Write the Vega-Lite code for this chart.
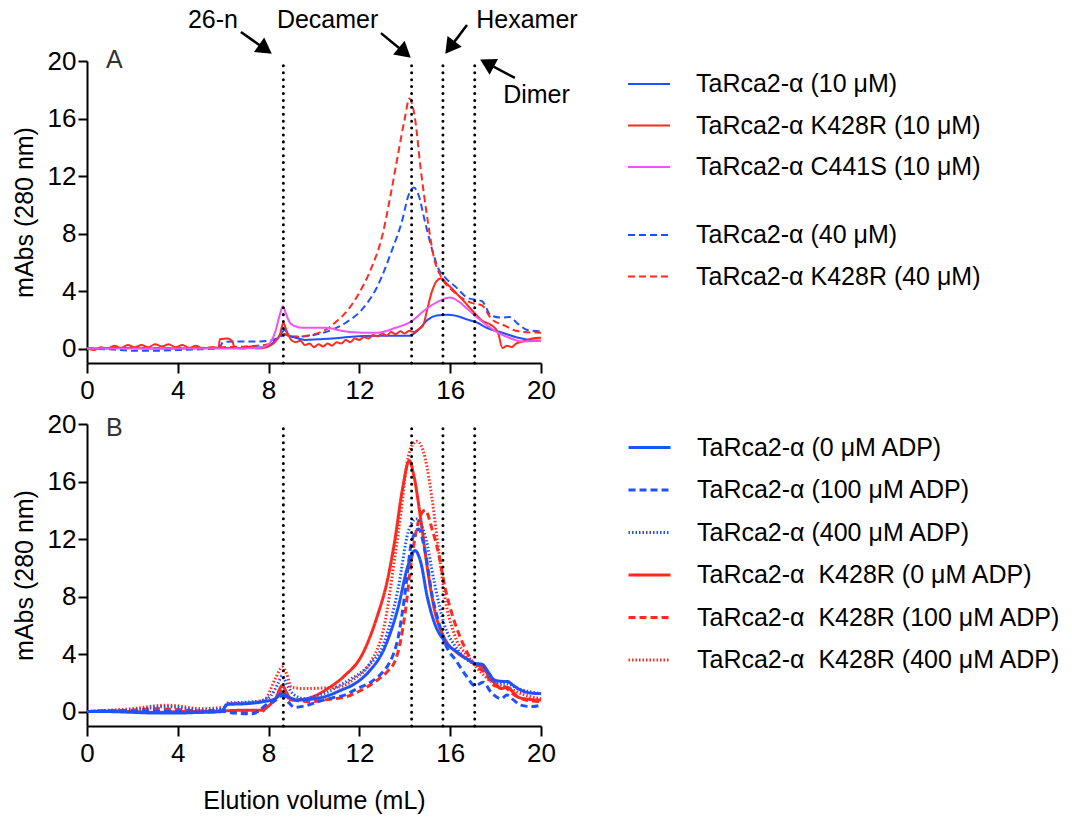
{
  "$schema": "https://vega.github.io/schema/vega-lite/v6.json",
  "padding": {"left": 12, "top": 8, "right": 2, "bottom": 5},
  "config": {
    "font": "Liberation Sans",
    "view": {"stroke": null},
    "axis": {"grid": false, "domainColor": "black", "domainWidth": 2, "tickColor": "black", "tickWidth": 2, "tickSize": 9, "labelFont": "Liberation Sans", "labelFontSize": 26, "labelColor": "black", "titleFont": "Liberation Sans", "titleFontSize": 25, "titleFontWeight": "normal", "titleColor": "black", "labelFlush": false, "labelOverlap": false},
    "legend": {"labelFont": "Liberation Sans", "labelFontSize": 25, "labelColor": "black", "labelLimit": 600, "symbolType": "stroke", "symbolSize": 1764, "symbolStrokeWidth": 2, "rowPadding": 6.5, "padding": 0, "labelOffset": 25, "title": null}
  },
  "datasets": {
    "a1": [
      {"s": "TaRca2-α (10 μM)", "x": 0, "y": 0}, {"s": "TaRca2-α (10 μM)", "x": 1, "y": 0.05}, {"s": "TaRca2-α (10 μM)", "x": 2, "y": 0.05}, {"s": "TaRca2-α (10 μM)", "x": 3, "y": 0}, {"s": "TaRca2-α (10 μM)", "x": 4, "y": 0}, {"s": "TaRca2-α (10 μM)", "x": 5, "y": 0.05}, {"s": "TaRca2-α (10 μM)", "x": 6, "y": 0.05}, {"s": "TaRca2-α (10 μM)", "x": 7, "y": 0.05}, {"s": "TaRca2-α (10 μM)", "x": 7.8, "y": 0.1}, {"s": "TaRca2-α (10 μM)", "x": 8.2, "y": 0.4}, {"s": "TaRca2-α (10 μM)", "x": 8.5, "y": 0.9}, {"s": "TaRca2-α (10 μM)", "x": 8.7, "y": 1.3}, {"s": "TaRca2-α (10 μM)", "x": 8.9, "y": 0.9}, {"s": "TaRca2-α (10 μM)", "x": 9.2, "y": 0.75}, {"s": "TaRca2-α (10 μM)", "x": 9.6, "y": 0.6}, {"s": "TaRca2-α (10 μM)", "x": 10.2, "y": 0.65}, {"s": "TaRca2-α (10 μM)", "x": 10.8, "y": 0.7}, {"s": "TaRca2-α (10 μM)", "x": 11.5, "y": 0.8}, {"s": "TaRca2-α (10 μM)", "x": 12.2, "y": 0.88}, {"s": "TaRca2-α (10 μM)", "x": 13, "y": 0.9}, {"s": "TaRca2-α (10 μM)", "x": 13.6, "y": 0.9}, {"s": "TaRca2-α (10 μM)", "x": 14.2, "y": 0.9}, {"s": "TaRca2-α (10 μM)", "x": 14.6, "y": 1.3}, {"s": "TaRca2-α (10 μM)", "x": 15.0, "y": 2.0}, {"s": "TaRca2-α (10 μM)", "x": 15.4, "y": 2.3}, {"s": "TaRca2-α (10 μM)", "x": 15.9, "y": 2.35}, {"s": "TaRca2-α (10 μM)", "x": 16.2, "y": 2.3}, {"s": "TaRca2-α (10 μM)", "x": 16.8, "y": 2.0}, {"s": "TaRca2-α (10 μM)", "x": 17.2, "y": 1.8}, {"s": "TaRca2-α (10 μM)", "x": 17.6, "y": 1.45}, {"s": "TaRca2-α (10 μM)", "x": 18.3, "y": 1.1}, {"s": "TaRca2-α (10 μM)", "x": 19, "y": 0.75}, {"s": "TaRca2-α (10 μM)", "x": 19.5, "y": 0.6}, {"s": "TaRca2-α (10 μM)", "x": 20, "y": 0.55},
      {"s": "TaRca2-α K428R (10 μM)", "x": 0, "y": 0}, {"s": "TaRca2-α K428R (10 μM)", "x": 0.3, "y": -0.1}, {"s": "TaRca2-α K428R (10 μM)", "x": 0.6, "y": 0.1}, {"s": "TaRca2-α K428R (10 μM)", "x": 0.9, "y": 0.0}, {"s": "TaRca2-α K428R (10 μM)", "x": 1.2, "y": 0.2}, {"s": "TaRca2-α K428R (10 μM)", "x": 1.5, "y": 0.05}, {"s": "TaRca2-α K428R (10 μM)", "x": 1.8, "y": 0.25}, {"s": "TaRca2-α K428R (10 μM)", "x": 2.1, "y": 0.1}, {"s": "TaRca2-α K428R (10 μM)", "x": 2.4, "y": 0.25}, {"s": "TaRca2-α K428R (10 μM)", "x": 2.7, "y": 0.1}, {"s": "TaRca2-α K428R (10 μM)", "x": 3.0, "y": 0.3}, {"s": "TaRca2-α K428R (10 μM)", "x": 3.3, "y": 0.15}, {"s": "TaRca2-α K428R (10 μM)", "x": 3.6, "y": 0.3}, {"s": "TaRca2-α K428R (10 μM)", "x": 3.9, "y": 0.1}, {"s": "TaRca2-α K428R (10 μM)", "x": 4.2, "y": 0.25}, {"s": "TaRca2-α K428R (10 μM)", "x": 4.5, "y": 0.05}, {"s": "TaRca2-α K428R (10 μM)", "x": 4.8, "y": 0.2}, {"s": "TaRca2-α K428R (10 μM)", "x": 5.1, "y": 0.0}, {"s": "TaRca2-α K428R (10 μM)", "x": 5.5, "y": 0.1}, {"s": "TaRca2-α K428R (10 μM)", "x": 5.8, "y": 0.05}, {"s": "TaRca2-α K428R (10 μM)", "x": 5.85, "y": 0.65}, {"s": "TaRca2-α K428R (10 μM)", "x": 6.2, "y": 0.7}, {"s": "TaRca2-α K428R (10 μM)", "x": 6.4, "y": 0.5}, {"s": "TaRca2-α K428R (10 μM)", "x": 6.5, "y": 0.1}, {"s": "TaRca2-α K428R (10 μM)", "x": 6.9, "y": 0.0}, {"s": "TaRca2-α K428R (10 μM)", "x": 7.2, "y": 0.15}, {"s": "TaRca2-α K428R (10 μM)", "x": 7.5, "y": 0}, {"s": "TaRca2-α K428R (10 μM)", "x": 7.9, "y": 0.1}, {"s": "TaRca2-α K428R (10 μM)", "x": 8.3, "y": 0.5}, {"s": "TaRca2-α K428R (10 μM)", "x": 8.5, "y": 1.0}, {"s": "TaRca2-α K428R (10 μM)", "x": 8.65, "y": 1.8}, {"s": "TaRca2-α K428R (10 μM)", "x": 8.8, "y": 1.2}, {"s": "TaRca2-α K428R (10 μM)", "x": 9.0, "y": 0.6}, {"s": "TaRca2-α K428R (10 μM)", "x": 9.2, "y": 0.45}, {"s": "TaRca2-α K428R (10 μM)", "x": 9.4, "y": 0.55}, {"s": "TaRca2-α K428R (10 μM)", "x": 9.6, "y": 0.25}, {"s": "TaRca2-α K428R (10 μM)", "x": 9.8, "y": 0.35}, {"s": "TaRca2-α K428R (10 μM)", "x": 10.0, "y": 0.1}, {"s": "TaRca2-α K428R (10 μM)", "x": 10.2, "y": 0.3}, {"s": "TaRca2-α K428R (10 μM)", "x": 10.4, "y": 0.15}, {"s": "TaRca2-α K428R (10 μM)", "x": 10.6, "y": 0.35}, {"s": "TaRca2-α K428R (10 μM)", "x": 10.8, "y": 0.2}, {"s": "TaRca2-α K428R (10 μM)", "x": 11.0, "y": 0.45}, {"s": "TaRca2-α K428R (10 μM)", "x": 11.2, "y": 0.35}, {"s": "TaRca2-α K428R (10 μM)", "x": 11.4, "y": 0.6}, {"s": "TaRca2-α K428R (10 μM)", "x": 11.6, "y": 0.45}, {"s": "TaRca2-α K428R (10 μM)", "x": 11.8, "y": 0.7}, {"s": "TaRca2-α K428R (10 μM)", "x": 12.0, "y": 0.6}, {"s": "TaRca2-α K428R (10 μM)", "x": 12.2, "y": 0.8}, {"s": "TaRca2-α K428R (10 μM)", "x": 12.4, "y": 0.7}, {"s": "TaRca2-α K428R (10 μM)", "x": 12.6, "y": 0.95}, {"s": "TaRca2-α K428R (10 μM)", "x": 12.8, "y": 0.85}, {"s": "TaRca2-α K428R (10 μM)", "x": 13.0, "y": 1.05}, {"s": "TaRca2-α K428R (10 μM)", "x": 13.2, "y": 0.9}, {"s": "TaRca2-α K428R (10 μM)", "x": 13.4, "y": 1.15}, {"s": "TaRca2-α K428R (10 μM)", "x": 13.6, "y": 1.0}, {"s": "TaRca2-α K428R (10 μM)", "x": 13.8, "y": 1.2}, {"s": "TaRca2-α K428R (10 μM)", "x": 14.0, "y": 1.05}, {"s": "TaRca2-α K428R (10 μM)", "x": 14.2, "y": 1.25}, {"s": "TaRca2-α K428R (10 μM)", "x": 14.4, "y": 1.15}, {"s": "TaRca2-α K428R (10 μM)", "x": 14.6, "y": 1.35}, {"s": "TaRca2-α K428R (10 μM)", "x": 14.8, "y": 1.6}, {"s": "TaRca2-α K428R (10 μM)", "x": 15.0, "y": 2.8}, {"s": "TaRca2-α K428R (10 μM)", "x": 15.2, "y": 4.0}, {"s": "TaRca2-α K428R (10 μM)", "x": 15.4, "y": 4.7}, {"s": "TaRca2-α K428R (10 μM)", "x": 15.6, "y": 4.9}, {"s": "TaRca2-α K428R (10 μM)", "x": 15.8, "y": 4.6}, {"s": "TaRca2-α K428R (10 μM)", "x": 16.0, "y": 4.3}, {"s": "TaRca2-α K428R (10 μM)", "x": 16.3, "y": 3.8}, {"s": "TaRca2-α K428R (10 μM)", "x": 16.6, "y": 3.3}, {"s": "TaRca2-α K428R (10 μM)", "x": 17.0, "y": 2.6}, {"s": "TaRca2-α K428R (10 μM)", "x": 17.4, "y": 1.95}, {"s": "TaRca2-α K428R (10 μM)", "x": 17.8, "y": 1.65}, {"s": "TaRca2-α K428R (10 μM)", "x": 18.1, "y": 1.15}, {"s": "TaRca2-α K428R (10 μM)", "x": 18.3, "y": 0.05}, {"s": "TaRca2-α K428R (10 μM)", "x": 18.5, "y": 0.2}, {"s": "TaRca2-α K428R (10 μM)", "x": 18.7, "y": 0.1}, {"s": "TaRca2-α K428R (10 μM)", "x": 18.9, "y": 0.35}, {"s": "TaRca2-α K428R (10 μM)", "x": 19.2, "y": 0.5}, {"s": "TaRca2-α K428R (10 μM)", "x": 19.6, "y": 0.7}, {"s": "TaRca2-α K428R (10 μM)", "x": 20, "y": 0.75},
      {"s": "TaRca2-α C441S (10 μM)", "x": 0, "y": 0}, {"s": "TaRca2-α C441S (10 μM)", "x": 2, "y": 0}, {"s": "TaRca2-α C441S (10 μM)", "x": 4, "y": 0}, {"s": "TaRca2-α C441S (10 μM)", "x": 6, "y": 0}, {"s": "TaRca2-α C441S (10 μM)", "x": 7.6, "y": 0.05}, {"s": "TaRca2-α C441S (10 μM)", "x": 8.0, "y": 0.3}, {"s": "TaRca2-α C441S (10 μM)", "x": 8.3, "y": 1.2}, {"s": "TaRca2-α C441S (10 μM)", "x": 8.5, "y": 2.4}, {"s": "TaRca2-α C441S (10 μM)", "x": 8.62, "y": 2.95}, {"s": "TaRca2-α C441S (10 μM)", "x": 8.75, "y": 2.5}, {"s": "TaRca2-α C441S (10 μM)", "x": 8.9, "y": 1.9}, {"s": "TaRca2-α C441S (10 μM)", "x": 9.1, "y": 1.6}, {"s": "TaRca2-α C441S (10 μM)", "x": 9.5, "y": 1.45}, {"s": "TaRca2-α C441S (10 μM)", "x": 10.5, "y": 1.45}, {"s": "TaRca2-α C441S (10 μM)", "x": 11.35, "y": 1.2}, {"s": "TaRca2-α C441S (10 μM)", "x": 12.1, "y": 1.1}, {"s": "TaRca2-α C441S (10 μM)", "x": 12.8, "y": 1.1}, {"s": "TaRca2-α C441S (10 μM)", "x": 13.6, "y": 1.45}, {"s": "TaRca2-α C441S (10 μM)", "x": 14.3, "y": 1.9}, {"s": "TaRca2-α C441S (10 μM)", "x": 14.9, "y": 2.7}, {"s": "TaRca2-α C441S (10 μM)", "x": 15.5, "y": 3.3}, {"s": "TaRca2-α C441S (10 μM)", "x": 16.0, "y": 3.55}, {"s": "TaRca2-α C441S (10 μM)", "x": 16.35, "y": 3.3}, {"s": "TaRca2-α C441S (10 μM)", "x": 16.8, "y": 2.7}, {"s": "TaRca2-α C441S (10 μM)", "x": 17.2, "y": 2.15}, {"s": "TaRca2-α C441S (10 μM)", "x": 18.0, "y": 1.2}, {"s": "TaRca2-α C441S (10 μM)", "x": 18.6, "y": 0.76}, {"s": "TaRca2-α C441S (10 μM)", "x": 19.15, "y": 0.5}, {"s": "TaRca2-α C441S (10 μM)", "x": 20, "y": 0.55}
    ],
    "a2": [
      {"s": "TaRca2-α (40 μM)", "x": 0, "y": 0}, {"s": "TaRca2-α (40 μM)", "x": 1, "y": -0.05}, {"s": "TaRca2-α (40 μM)", "x": 2, "y": -0.15}, {"s": "TaRca2-α (40 μM)", "x": 3, "y": -0.15}, {"s": "TaRca2-α (40 μM)", "x": 4, "y": -0.1}, {"s": "TaRca2-α (40 μM)", "x": 5, "y": -0.05}, {"s": "TaRca2-α (40 μM)", "x": 5.8, "y": 0}, {"s": "TaRca2-α (40 μM)", "x": 6.0, "y": 0.45}, {"s": "TaRca2-α (40 μM)", "x": 6.5, "y": 0.5}, {"s": "TaRca2-α (40 μM)", "x": 7, "y": 0.5}, {"s": "TaRca2-α (40 μM)", "x": 7.5, "y": 0.5}, {"s": "TaRca2-α (40 μM)", "x": 8, "y": 0.55}, {"s": "TaRca2-α (40 μM)", "x": 8.5, "y": 0.8}, {"s": "TaRca2-α (40 μM)", "x": 8.7, "y": 1.0}, {"s": "TaRca2-α (40 μM)", "x": 9, "y": 0.85}, {"s": "TaRca2-α (40 μM)", "x": 9.5, "y": 0.85}, {"s": "TaRca2-α (40 μM)", "x": 10, "y": 0.95}, {"s": "TaRca2-α (40 μM)", "x": 10.6, "y": 1.2}, {"s": "TaRca2-α (40 μM)", "x": 11.4, "y": 1.8}, {"s": "TaRca2-α (40 μM)", "x": 12.1, "y": 2.7}, {"s": "TaRca2-α (40 μM)", "x": 12.8, "y": 4.35}, {"s": "TaRca2-α (40 μM)", "x": 13.4, "y": 6.7}, {"s": "TaRca2-α (40 μM)", "x": 13.9, "y": 9.0}, {"s": "TaRca2-α (40 μM)", "x": 14.15, "y": 10.6}, {"s": "TaRca2-α (40 μM)", "x": 14.4, "y": 11.2}, {"s": "TaRca2-α (40 μM)", "x": 14.6, "y": 10.7}, {"s": "TaRca2-α (40 μM)", "x": 14.9, "y": 8.75}, {"s": "TaRca2-α (40 μM)", "x": 15.2, "y": 6.9}, {"s": "TaRca2-α (40 μM)", "x": 15.5, "y": 5.5}, {"s": "TaRca2-α (40 μM)", "x": 15.8, "y": 4.9}, {"s": "TaRca2-α (40 μM)", "x": 16.2, "y": 4.35}, {"s": "TaRca2-α (40 μM)", "x": 16.8, "y": 3.5}, {"s": "TaRca2-α (40 μM)", "x": 17.4, "y": 3.3}, {"s": "TaRca2-α (40 μM)", "x": 17.8, "y": 2.3}, {"s": "TaRca2-α (40 μM)", "x": 18.3, "y": 2.15}, {"s": "TaRca2-α (40 μM)", "x": 18.6, "y": 2.2}, {"s": "TaRca2-α (40 μM)", "x": 19.0, "y": 1.7}, {"s": "TaRca2-α (40 μM)", "x": 19.4, "y": 1.3}, {"s": "TaRca2-α (40 μM)", "x": 20, "y": 1.2},
      {"s": "TaRca2-α K428R (40 μM)", "x": 0, "y": 0}, {"s": "TaRca2-α K428R (40 μM)", "x": 1, "y": 0.05}, {"s": "TaRca2-α K428R (40 μM)", "x": 3, "y": 0.05}, {"s": "TaRca2-α K428R (40 μM)", "x": 5, "y": 0.05}, {"s": "TaRca2-α K428R (40 μM)", "x": 6, "y": 0.1}, {"s": "TaRca2-α K428R (40 μM)", "x": 7, "y": 0.15}, {"s": "TaRca2-α K428R (40 μM)", "x": 8, "y": 0.3}, {"s": "TaRca2-α K428R (40 μM)", "x": 8.5, "y": 0.8}, {"s": "TaRca2-α K428R (40 μM)", "x": 8.7, "y": 1.0}, {"s": "TaRca2-α K428R (40 μM)", "x": 9, "y": 0.8}, {"s": "TaRca2-α K428R (40 μM)", "x": 9.5, "y": 0.85}, {"s": "TaRca2-α K428R (40 μM)", "x": 10, "y": 1.0}, {"s": "TaRca2-α K428R (40 μM)", "x": 10.5, "y": 1.3}, {"s": "TaRca2-α K428R (40 μM)", "x": 11, "y": 1.9}, {"s": "TaRca2-α K428R (40 μM)", "x": 11.5, "y": 2.7}, {"s": "TaRca2-α K428R (40 μM)", "x": 12, "y": 3.9}, {"s": "TaRca2-α K428R (40 μM)", "x": 12.5, "y": 5.5}, {"s": "TaRca2-α K428R (40 μM)", "x": 13, "y": 7.8}, {"s": "TaRca2-α K428R (40 μM)", "x": 13.4, "y": 10.9}, {"s": "TaRca2-α K428R (40 μM)", "x": 13.7, "y": 13.5}, {"s": "TaRca2-α K428R (40 μM)", "x": 14.0, "y": 16.0}, {"s": "TaRca2-α K428R (40 μM)", "x": 14.2, "y": 17.4}, {"s": "TaRca2-α K428R (40 μM)", "x": 14.45, "y": 16.0}, {"s": "TaRca2-α K428R (40 μM)", "x": 14.7, "y": 12.5}, {"s": "TaRca2-α K428R (40 μM)", "x": 15.0, "y": 9.0}, {"s": "TaRca2-α K428R (40 μM)", "x": 15.3, "y": 6.2}, {"s": "TaRca2-α K428R (40 μM)", "x": 15.6, "y": 5.0}, {"s": "TaRca2-α K428R (40 μM)", "x": 16.2, "y": 3.9}, {"s": "TaRca2-α K428R (40 μM)", "x": 16.9, "y": 3.2}, {"s": "TaRca2-α K428R (40 μM)", "x": 17.4, "y": 3.0}, {"s": "TaRca2-α K428R (40 μM)", "x": 17.8, "y": 2.1}, {"s": "TaRca2-α K428R (40 μM)", "x": 18.4, "y": 1.6}, {"s": "TaRca2-α K428R (40 μM)", "x": 19.0, "y": 1.2}, {"s": "TaRca2-α K428R (40 μM)", "x": 20, "y": 1.1}
    ],
    "b": [
      {"s": "TaRca2-α  K428R (0 μM ADP)", "x": 0, "y": 0}, {"s": "TaRca2-α  K428R (0 μM ADP)", "x": 1, "y": 0.05}, {"s": "TaRca2-α  K428R (0 μM ADP)", "x": 2, "y": 0}, {"s": "TaRca2-α  K428R (0 μM ADP)", "x": 3, "y": -0.05}, {"s": "TaRca2-α  K428R (0 μM ADP)", "x": 4, "y": 0}, {"s": "TaRca2-α  K428R (0 μM ADP)", "x": 5, "y": 0}, {"s": "TaRca2-α  K428R (0 μM ADP)", "x": 6, "y": 0.05}, {"s": "TaRca2-α  K428R (0 μM ADP)", "x": 7, "y": 0.1}, {"s": "TaRca2-α  K428R (0 μM ADP)", "x": 7.7, "y": 0.1}, {"s": "TaRca2-α  K428R (0 μM ADP)", "x": 8.0, "y": 0.4}, {"s": "TaRca2-α  K428R (0 μM ADP)", "x": 8.3, "y": 0.9}, {"s": "TaRca2-α  K428R (0 μM ADP)", "x": 8.6, "y": 1.8}, {"s": "TaRca2-α  K428R (0 μM ADP)", "x": 8.8, "y": 1.3}, {"s": "TaRca2-α  K428R (0 μM ADP)", "x": 9.0, "y": 0.8}, {"s": "TaRca2-α  K428R (0 μM ADP)", "x": 9.5, "y": 0.85}, {"s": "TaRca2-α  K428R (0 μM ADP)", "x": 9.9, "y": 1.0}, {"s": "TaRca2-α  K428R (0 μM ADP)", "x": 10.6, "y": 1.6}, {"s": "TaRca2-α  K428R (0 μM ADP)", "x": 11.35, "y": 2.5}, {"s": "TaRca2-α  K428R (0 μM ADP)", "x": 12.1, "y": 3.9}, {"s": "TaRca2-α  K428R (0 μM ADP)", "x": 12.8, "y": 6.7}, {"s": "TaRca2-α  K428R (0 μM ADP)", "x": 13.2, "y": 8.9}, {"s": "TaRca2-α  K428R (0 μM ADP)", "x": 13.55, "y": 11.8}, {"s": "TaRca2-α  K428R (0 μM ADP)", "x": 13.9, "y": 15.5}, {"s": "TaRca2-α  K428R (0 μM ADP)", "x": 14.2, "y": 17.45}, {"s": "TaRca2-α  K428R (0 μM ADP)", "x": 14.4, "y": 16.4}, {"s": "TaRca2-α  K428R (0 μM ADP)", "x": 14.7, "y": 13.4}, {"s": "TaRca2-α  K428R (0 μM ADP)", "x": 15.0, "y": 9.9}, {"s": "TaRca2-α  K428R (0 μM ADP)", "x": 15.3, "y": 7.15}, {"s": "TaRca2-α  K428R (0 μM ADP)", "x": 15.75, "y": 5.1}, {"s": "TaRca2-α  K428R (0 μM ADP)", "x": 16.3, "y": 4.1}, {"s": "TaRca2-α  K428R (0 μM ADP)", "x": 16.8, "y": 3.6}, {"s": "TaRca2-α  K428R (0 μM ADP)", "x": 17.1, "y": 3.3}, {"s": "TaRca2-α  K428R (0 μM ADP)", "x": 17.4, "y": 3.1}, {"s": "TaRca2-α  K428R (0 μM ADP)", "x": 17.8, "y": 2.3}, {"s": "TaRca2-α  K428R (0 μM ADP)", "x": 18.25, "y": 1.6}, {"s": "TaRca2-α  K428R (0 μM ADP)", "x": 18.5, "y": 1.7}, {"s": "TaRca2-α  K428R (0 μM ADP)", "x": 18.8, "y": 1.3}, {"s": "TaRca2-α  K428R (0 μM ADP)", "x": 19.0, "y": 1.0}, {"s": "TaRca2-α  K428R (0 μM ADP)", "x": 19.5, "y": 0.85}, {"s": "TaRca2-α  K428R (0 μM ADP)", "x": 20, "y": 0.8},
      {"s": "TaRca2-α  K428R (100 μM ADP)", "x": 0, "y": 0}, {"s": "TaRca2-α  K428R (100 μM ADP)", "x": 1, "y": 0.05}, {"s": "TaRca2-α  K428R (100 μM ADP)", "x": 2, "y": 0.1}, {"s": "TaRca2-α  K428R (100 μM ADP)", "x": 3, "y": 0.2}, {"s": "TaRca2-α  K428R (100 μM ADP)", "x": 4, "y": 0.15}, {"s": "TaRca2-α  K428R (100 μM ADP)", "x": 5, "y": 0.05}, {"s": "TaRca2-α  K428R (100 μM ADP)", "x": 6, "y": 0.1}, {"s": "TaRca2-α  K428R (100 μM ADP)", "x": 7, "y": 0}, {"s": "TaRca2-α  K428R (100 μM ADP)", "x": 7.7, "y": 0}, {"s": "TaRca2-α  K428R (100 μM ADP)", "x": 8.0, "y": 0.5}, {"s": "TaRca2-α  K428R (100 μM ADP)", "x": 8.3, "y": 0.8}, {"s": "TaRca2-α  K428R (100 μM ADP)", "x": 8.6, "y": 1.5}, {"s": "TaRca2-α  K428R (100 μM ADP)", "x": 8.9, "y": 0.9}, {"s": "TaRca2-α  K428R (100 μM ADP)", "x": 9.3, "y": 0.75}, {"s": "TaRca2-α  K428R (100 μM ADP)", "x": 9.9, "y": 0.7}, {"s": "TaRca2-α  K428R (100 μM ADP)", "x": 10.6, "y": 0.85}, {"s": "TaRca2-α  K428R (100 μM ADP)", "x": 11.35, "y": 1.0}, {"s": "TaRca2-α  K428R (100 μM ADP)", "x": 12.1, "y": 1.5}, {"s": "TaRca2-α  K428R (100 μM ADP)", "x": 12.8, "y": 2.2}, {"s": "TaRca2-α  K428R (100 μM ADP)", "x": 13.3, "y": 2.9}, {"s": "TaRca2-α  K428R (100 μM ADP)", "x": 13.55, "y": 3.45}, {"s": "TaRca2-α  K428R (100 μM ADP)", "x": 13.8, "y": 4.8}, {"s": "TaRca2-α  K428R (100 μM ADP)", "x": 14.0, "y": 6.7}, {"s": "TaRca2-α  K428R (100 μM ADP)", "x": 14.3, "y": 10.6}, {"s": "TaRca2-α  K428R (100 μM ADP)", "x": 14.6, "y": 13.2}, {"s": "TaRca2-α  K428R (100 μM ADP)", "x": 14.9, "y": 14.0}, {"s": "TaRca2-α  K428R (100 μM ADP)", "x": 15.2, "y": 12.7}, {"s": "TaRca2-α  K428R (100 μM ADP)", "x": 15.5, "y": 10.9}, {"s": "TaRca2-α  K428R (100 μM ADP)", "x": 15.75, "y": 8.8}, {"s": "TaRca2-α  K428R (100 μM ADP)", "x": 16.2, "y": 6.2}, {"s": "TaRca2-α  K428R (100 μM ADP)", "x": 16.6, "y": 4.6}, {"s": "TaRca2-α  K428R (100 μM ADP)", "x": 17.1, "y": 3.2}, {"s": "TaRca2-α  K428R (100 μM ADP)", "x": 17.5, "y": 2.75}, {"s": "TaRca2-α  K428R (100 μM ADP)", "x": 17.95, "y": 1.8}, {"s": "TaRca2-α  K428R (100 μM ADP)", "x": 18.4, "y": 1.7}, {"s": "TaRca2-α  K428R (100 μM ADP)", "x": 18.7, "y": 1.3}, {"s": "TaRca2-α  K428R (100 μM ADP)", "x": 19, "y": 1.0}, {"s": "TaRca2-α  K428R (100 μM ADP)", "x": 19.5, "y": 0.75}, {"s": "TaRca2-α  K428R (100 μM ADP)", "x": 20, "y": 0.7},
      {"s": "TaRca2-α  K428R (400 μM ADP)", "x": 0, "y": 0}, {"s": "TaRca2-α  K428R (400 μM ADP)", "x": 1, "y": 0.1}, {"s": "TaRca2-α  K428R (400 μM ADP)", "x": 2, "y": 0.2}, {"s": "TaRca2-α  K428R (400 μM ADP)", "x": 3, "y": 0.4}, {"s": "TaRca2-α  K428R (400 μM ADP)", "x": 3.5, "y": 0.45}, {"s": "TaRca2-α  K428R (400 μM ADP)", "x": 4, "y": 0.4}, {"s": "TaRca2-α  K428R (400 μM ADP)", "x": 5, "y": 0.2}, {"s": "TaRca2-α  K428R (400 μM ADP)", "x": 6, "y": 0.3}, {"s": "TaRca2-α  K428R (400 μM ADP)", "x": 6.2, "y": 0.55}, {"s": "TaRca2-α  K428R (400 μM ADP)", "x": 7, "y": 0.6}, {"s": "TaRca2-α  K428R (400 μM ADP)", "x": 7.8, "y": 0.8}, {"s": "TaRca2-α  K428R (400 μM ADP)", "x": 8.3, "y": 2.3}, {"s": "TaRca2-α  K428R (400 μM ADP)", "x": 8.6, "y": 3.1}, {"s": "TaRca2-α  K428R (400 μM ADP)", "x": 8.8, "y": 2.6}, {"s": "TaRca2-α  K428R (400 μM ADP)", "x": 9.0, "y": 1.7}, {"s": "TaRca2-α  K428R (400 μM ADP)", "x": 9.6, "y": 1.6}, {"s": "TaRca2-α  K428R (400 μM ADP)", "x": 10.5, "y": 1.65}, {"s": "TaRca2-α  K428R (400 μM ADP)", "x": 11.05, "y": 1.7}, {"s": "TaRca2-α  K428R (400 μM ADP)", "x": 11.8, "y": 2.3}, {"s": "TaRca2-α  K428R (400 μM ADP)", "x": 12.5, "y": 3.45}, {"s": "TaRca2-α  K428R (400 μM ADP)", "x": 13.1, "y": 6.0}, {"s": "TaRca2-α  K428R (400 μM ADP)", "x": 13.55, "y": 10.6}, {"s": "TaRca2-α  K428R (400 μM ADP)", "x": 13.85, "y": 14.1}, {"s": "TaRca2-α  K428R (400 μM ADP)", "x": 14.1, "y": 17.3}, {"s": "TaRca2-α  K428R (400 μM ADP)", "x": 14.35, "y": 18.6}, {"s": "TaRca2-α  K428R (400 μM ADP)", "x": 14.55, "y": 18.8}, {"s": "TaRca2-α  K428R (400 μM ADP)", "x": 14.9, "y": 17.6}, {"s": "TaRca2-α  K428R (400 μM ADP)", "x": 15.2, "y": 14.8}, {"s": "TaRca2-α  K428R (400 μM ADP)", "x": 15.5, "y": 11.1}, {"s": "TaRca2-α  K428R (400 μM ADP)", "x": 15.75, "y": 8.1}, {"s": "TaRca2-α  K428R (400 μM ADP)", "x": 16.2, "y": 5.3}, {"s": "TaRca2-α  K428R (400 μM ADP)", "x": 16.8, "y": 3.8}, {"s": "TaRca2-α  K428R (400 μM ADP)", "x": 17.2, "y": 3.0}, {"s": "TaRca2-α  K428R (400 μM ADP)", "x": 17.8, "y": 2.1}, {"s": "TaRca2-α  K428R (400 μM ADP)", "x": 18.5, "y": 1.7}, {"s": "TaRca2-α  K428R (400 μM ADP)", "x": 19.2, "y": 1.2}, {"s": "TaRca2-α  K428R (400 μM ADP)", "x": 20, "y": 0.9},
      {"s": "TaRca2-α (0 μM ADP)", "x": 0, "y": 0}, {"s": "TaRca2-α (0 μM ADP)", "x": 1, "y": 0}, {"s": "TaRca2-α (0 μM ADP)", "x": 2, "y": -0.05}, {"s": "TaRca2-α (0 μM ADP)", "x": 3, "y": -0.1}, {"s": "TaRca2-α (0 μM ADP)", "x": 4, "y": -0.1}, {"s": "TaRca2-α (0 μM ADP)", "x": 5, "y": -0.05}, {"s": "TaRca2-α (0 μM ADP)", "x": 5.9, "y": 0}, {"s": "TaRca2-α (0 μM ADP)", "x": 6.2, "y": 0.5}, {"s": "TaRca2-α (0 μM ADP)", "x": 7, "y": 0.55}, {"s": "TaRca2-α (0 μM ADP)", "x": 7.8, "y": 0.7}, {"s": "TaRca2-α (0 μM ADP)", "x": 8.3, "y": 0.9}, {"s": "TaRca2-α (0 μM ADP)", "x": 8.6, "y": 1.25}, {"s": "TaRca2-α (0 μM ADP)", "x": 8.9, "y": 1.0}, {"s": "TaRca2-α (0 μM ADP)", "x": 9.3, "y": 0.8}, {"s": "TaRca2-α (0 μM ADP)", "x": 9.8, "y": 0.85}, {"s": "TaRca2-α (0 μM ADP)", "x": 10.6, "y": 1.1}, {"s": "TaRca2-α (0 μM ADP)", "x": 11.2, "y": 1.5}, {"s": "TaRca2-α (0 μM ADP)", "x": 11.7, "y": 1.85}, {"s": "TaRca2-α (0 μM ADP)", "x": 12.4, "y": 2.75}, {"s": "TaRca2-α (0 μM ADP)", "x": 13.1, "y": 4.4}, {"s": "TaRca2-α (0 μM ADP)", "x": 13.7, "y": 7.2}, {"s": "TaRca2-α (0 μM ADP)", "x": 14.15, "y": 10.2}, {"s": "TaRca2-α (0 μM ADP)", "x": 14.45, "y": 11.2}, {"s": "TaRca2-α (0 μM ADP)", "x": 14.7, "y": 10.4}, {"s": "TaRca2-α (0 μM ADP)", "x": 15.0, "y": 7.9}, {"s": "TaRca2-α (0 μM ADP)", "x": 15.3, "y": 6.2}, {"s": "TaRca2-α (0 μM ADP)", "x": 15.75, "y": 4.9}, {"s": "TaRca2-α (0 μM ADP)", "x": 16.3, "y": 4.15}, {"s": "TaRca2-α (0 μM ADP)", "x": 16.8, "y": 3.6}, {"s": "TaRca2-α (0 μM ADP)", "x": 17.1, "y": 3.35}, {"s": "TaRca2-α (0 μM ADP)", "x": 17.4, "y": 3.3}, {"s": "TaRca2-α (0 μM ADP)", "x": 17.7, "y": 2.7}, {"s": "TaRca2-α (0 μM ADP)", "x": 17.95, "y": 2.2}, {"s": "TaRca2-α (0 μM ADP)", "x": 18.3, "y": 2.1}, {"s": "TaRca2-α (0 μM ADP)", "x": 18.5, "y": 2.1}, {"s": "TaRca2-α (0 μM ADP)", "x": 18.8, "y": 1.8}, {"s": "TaRca2-α (0 μM ADP)", "x": 19.1, "y": 1.5}, {"s": "TaRca2-α (0 μM ADP)", "x": 19.5, "y": 1.3}, {"s": "TaRca2-α (0 μM ADP)", "x": 20, "y": 1.25},
      {"s": "TaRca2-α (100 μM ADP)", "x": 0, "y": 0}, {"s": "TaRca2-α (100 μM ADP)", "x": 1, "y": 0.05}, {"s": "TaRca2-α (100 μM ADP)", "x": 2, "y": 0}, {"s": "TaRca2-α (100 μM ADP)", "x": 4, "y": 0}, {"s": "TaRca2-α (100 μM ADP)", "x": 5, "y": -0.05}, {"s": "TaRca2-α (100 μM ADP)", "x": 6, "y": 0}, {"s": "TaRca2-α (100 μM ADP)", "x": 6.5, "y": -0.1}, {"s": "TaRca2-α (100 μM ADP)", "x": 7.3, "y": -0.15}, {"s": "TaRca2-α (100 μM ADP)", "x": 7.6, "y": 0.1}, {"s": "TaRca2-α (100 μM ADP)", "x": 8.0, "y": 0.6}, {"s": "TaRca2-α (100 μM ADP)", "x": 8.3, "y": 0.8}, {"s": "TaRca2-α (100 μM ADP)", "x": 8.6, "y": 1.1}, {"s": "TaRca2-α (100 μM ADP)", "x": 8.9, "y": 0.6}, {"s": "TaRca2-α (100 μM ADP)", "x": 9.15, "y": 0.3}, {"s": "TaRca2-α (100 μM ADP)", "x": 9.6, "y": 0.4}, {"s": "TaRca2-α (100 μM ADP)", "x": 10.2, "y": 0.7}, {"s": "TaRca2-α (100 μM ADP)", "x": 10.8, "y": 0.95}, {"s": "TaRca2-α (100 μM ADP)", "x": 11.35, "y": 1.15}, {"s": "TaRca2-α (100 μM ADP)", "x": 11.9, "y": 1.6}, {"s": "TaRca2-α (100 μM ADP)", "x": 12.5, "y": 2.05}, {"s": "TaRca2-α (100 μM ADP)", "x": 13.0, "y": 2.7}, {"s": "TaRca2-α (100 μM ADP)", "x": 13.25, "y": 3.2}, {"s": "TaRca2-α (100 μM ADP)", "x": 13.5, "y": 4.0}, {"s": "TaRca2-α (100 μM ADP)", "x": 13.7, "y": 5.1}, {"s": "TaRca2-α (100 μM ADP)", "x": 14.0, "y": 8.1}, {"s": "TaRca2-α (100 μM ADP)", "x": 14.3, "y": 11.8}, {"s": "TaRca2-α (100 μM ADP)", "x": 14.6, "y": 12.7}, {"s": "TaRca2-α (100 μM ADP)", "x": 14.9, "y": 11.1}, {"s": "TaRca2-α (100 μM ADP)", "x": 15.2, "y": 8.1}, {"s": "TaRca2-α (100 μM ADP)", "x": 15.5, "y": 6.2}, {"s": "TaRca2-α (100 μM ADP)", "x": 15.75, "y": 4.85}, {"s": "TaRca2-α (100 μM ADP)", "x": 16.3, "y": 3.45}, {"s": "TaRca2-α (100 μM ADP)", "x": 16.7, "y": 2.5}, {"s": "TaRca2-α (100 μM ADP)", "x": 17.1, "y": 1.8}, {"s": "TaRca2-α (100 μM ADP)", "x": 17.45, "y": 2.05}, {"s": "TaRca2-α (100 μM ADP)", "x": 17.8, "y": 1.35}, {"s": "TaRca2-α (100 μM ADP)", "x": 18.25, "y": 0.9}, {"s": "TaRca2-α (100 μM ADP)", "x": 18.5, "y": 1.15}, {"s": "TaRca2-α (100 μM ADP)", "x": 18.8, "y": 0.8}, {"s": "TaRca2-α (100 μM ADP)", "x": 19.1, "y": 0.45}, {"s": "TaRca2-α (100 μM ADP)", "x": 19.6, "y": 0.35}, {"s": "TaRca2-α (100 μM ADP)", "x": 20, "y": 0.45},
      {"s": "TaRca2-α (400 μM ADP)", "x": 0, "y": 0}, {"s": "TaRca2-α (400 μM ADP)", "x": 1, "y": 0.05}, {"s": "TaRca2-α (400 μM ADP)", "x": 2, "y": 0.1}, {"s": "TaRca2-α (400 μM ADP)", "x": 3, "y": 0.3}, {"s": "TaRca2-α (400 μM ADP)", "x": 3.5, "y": 0.35}, {"s": "TaRca2-α (400 μM ADP)", "x": 4, "y": 0.3}, {"s": "TaRca2-α (400 μM ADP)", "x": 5, "y": 0.1}, {"s": "TaRca2-α (400 μM ADP)", "x": 6, "y": 0.2}, {"s": "TaRca2-α (400 μM ADP)", "x": 6.2, "y": 0.6}, {"s": "TaRca2-α (400 μM ADP)", "x": 7, "y": 0.65}, {"s": "TaRca2-α (400 μM ADP)", "x": 7.8, "y": 0.8}, {"s": "TaRca2-α (400 μM ADP)", "x": 8.1, "y": 1.1}, {"s": "TaRca2-α (400 μM ADP)", "x": 8.4, "y": 1.9}, {"s": "TaRca2-α (400 μM ADP)", "x": 8.6, "y": 2.5}, {"s": "TaRca2-α (400 μM ADP)", "x": 8.8, "y": 1.9}, {"s": "TaRca2-α (400 μM ADP)", "x": 9.1, "y": 1.2}, {"s": "TaRca2-α (400 μM ADP)", "x": 9.6, "y": 0.9}, {"s": "TaRca2-α (400 μM ADP)", "x": 10.1, "y": 1.1}, {"s": "TaRca2-α (400 μM ADP)", "x": 10.6, "y": 1.35}, {"s": "TaRca2-α (400 μM ADP)", "x": 11.1, "y": 1.8}, {"s": "TaRca2-α (400 μM ADP)", "x": 11.65, "y": 2.3}, {"s": "TaRca2-α (400 μM ADP)", "x": 12.4, "y": 3.2}, {"s": "TaRca2-α (400 μM ADP)", "x": 13.1, "y": 4.85}, {"s": "TaRca2-α (400 μM ADP)", "x": 13.7, "y": 8.5}, {"s": "TaRca2-α (400 μM ADP)", "x": 14.15, "y": 12.5}, {"s": "TaRca2-α (400 μM ADP)", "x": 14.5, "y": 13.4}, {"s": "TaRca2-α (400 μM ADP)", "x": 14.9, "y": 12.2}, {"s": "TaRca2-α (400 μM ADP)", "x": 15.3, "y": 9.0}, {"s": "TaRca2-α (400 μM ADP)", "x": 15.75, "y": 6.0}, {"s": "TaRca2-α (400 μM ADP)", "x": 16.2, "y": 4.6}, {"s": "TaRca2-α (400 μM ADP)", "x": 16.9, "y": 3.45}, {"s": "TaRca2-α (400 μM ADP)", "x": 17.4, "y": 3.2}, {"s": "TaRca2-α (400 μM ADP)", "x": 17.95, "y": 2.05}, {"s": "TaRca2-α (400 μM ADP)", "x": 18.5, "y": 1.95}, {"s": "TaRca2-α (400 μM ADP)", "x": 19, "y": 1.6}, {"s": "TaRca2-α (400 μM ADP)", "x": 20, "y": 1.25}
    ],
    "m": [{"x": 8.65}, {"x": 14.3}, {"x": 15.68}, {"x": 17.08}],
    "ann": [
      {"t": "26-n", "x": 5.55, "y": 22.29},
      {"t": "Decamer", "x": 10.6, "y": 22.29},
      {"t": "Hexamer", "x": 19.38, "y": 22.29},
      {"t": "Dimer", "x": 19.8, "y": 17.08}
    ],
    "arr": [
      {"x": 6.78, "y": 22.01, "x2": 7.86, "y2": 20.82, "a": 125},
      {"x": 12.95, "y": 21.94, "x2": 14.0, "y2": 20.58, "a": 130},
      {"x": 16.74, "y": 22.5, "x2": 15.99, "y2": 20.93, "a": 217},
      {"x": 18.85, "y": 18.82, "x2": 17.62, "y2": 19.85, "a": 298}
    ]
  },
  "spacing": 8,
  "resolve": {"scale": {"x": "independent", "y": "independent", "color": "independent", "strokeDash": "independent", "strokeWidth": "independent"}},
  "vconcat": [
    {
      "width": 454,
      "height": 302,
      "resolve": {"scale": {"color": "independent"}},
      "layer": [
        {
          "data": {"name": "a2"},
          "mark": {"type": "line", "strokeWidth": 2, "interpolate": "monotone", "strokeDash": [7, 4]},
          "encoding": {
            "x": {"field": "x", "type": "quantitative", "scale": {"domain": [0, 20], "nice": false, "zero": false}, "axis": {"values": [0, 4, 8, 12, 16, 20], "title": null, "tickSize": 10, "labelPadding": 4}},
            "y": {"field": "y", "type": "quantitative", "scale": {"domain": [-1, 20], "nice": false, "zero": false}, "axis": {"values": [0, 4, 8, 12, 16, 20], "title": "mAbs (280 nm)", "titlePadding": 10, "labelPadding": 2}},
            "color": {"field": "s", "type": "nominal", "scale": {"domain": ["TaRca2-α (40 μM)", "TaRca2-α K428R (40 μM)"], "range": ["#1F52FF", "#FF2A1F"]}, "legend": {"orient": "none", "legendX": 540, "legendY": 152, "symbolDash": [7, 4]}}
          }
        },
        {
          "data": {"name": "a1"},
          "mark": {"type": "line", "strokeWidth": 2, "interpolate": "monotone"},
          "encoding": {
            "x": {"field": "x", "type": "quantitative"},
            "y": {"field": "y", "type": "quantitative"},
            "color": {"field": "s", "type": "nominal", "scale": {"domain": ["TaRca2-α (10 μM)", "TaRca2-α K428R (10 μM)", "TaRca2-α C441S (10 μM)"], "range": ["#1F52FF", "#FF2A1F", "#EE55EE"]}, "legend": {"orient": "none", "legendX": 540, "legendY": 1}}
          }
        },
        {
          "data": {"name": "m"},
          "mark": {"type": "rule", "color": "black", "strokeWidth": 3, "strokeCap": "round", "strokeDash": [0.01, 6.9]},
          "encoding": {"x": {"field": "x", "type": "quantitative"}, "y": {"datum": -1}, "y2": {"datum": 20}}
        },
        {
          "data": {"name": "arr"},
          "mark": {"type": "rule", "color": "black", "strokeWidth": 2.5},
          "encoding": {"x": {"field": "x", "type": "quantitative"}, "y": {"field": "y", "type": "quantitative"}, "x2": {"field": "x2"}, "y2": {"field": "y2"}}
        },
        {
          "data": {"name": "arr"},
          "mark": {"type": "point", "shape": "triangle-up", "filled": true, "color": "black", "opacity": 1, "size": 320},
          "encoding": {"x": {"field": "x2", "type": "quantitative"}, "y": {"field": "y2", "type": "quantitative"}, "angle": {"field": "a", "type": "quantitative", "scale": null}}
        },
        {
          "data": {"name": "ann"},
          "mark": {"type": "text", "fontSize": 25, "align": "center", "baseline": "alphabetic", "color": "black", "font": "Liberation Sans"},
          "encoding": {"x": {"field": "x", "type": "quantitative"}, "y": {"field": "y", "type": "quantitative"}, "text": {"field": "t"}}
        },
        {
          "data": {"values": [{"t": "A", "x": 0.84, "y": 19.5}]},
          "mark": {"type": "text", "fontSize": 25, "align": "left", "baseline": "alphabetic", "color": "#333333", "font": "Liberation Sans"},
          "encoding": {"x": {"field": "x", "type": "quantitative"}, "y": {"field": "y", "type": "quantitative"}, "text": {"field": "t"}}
        }
      ]
    },
    {
      "width": 454,
      "height": 302,
      "layer": [
        {
          "data": {"name": "b"},
          "mark": {"type": "line", "interpolate": "monotone"},
          "encoding": {
            "x": {"field": "x", "type": "quantitative", "scale": {"domain": [0, 20], "nice": false, "zero": false}, "axis": {"values": [0, 4, 8, 12, 16, 20], "title": "Elution volume (mL)", "tickSize": 10, "labelPadding": 4, "titlePadding": 22}},
            "y": {"field": "y", "type": "quantitative", "scale": {"domain": [-1, 20], "nice": false, "zero": false}, "axis": {"values": [0, 4, 8, 12, 16, 20], "title": "mAbs (280 nm)", "titlePadding": 10, "labelPadding": 2}},
            "color": {"field": "s", "type": "nominal", "scale": {"domain": ["TaRca2-α (0 μM ADP)", "TaRca2-α (100 μM ADP)", "TaRca2-α (400 μM ADP)", "TaRca2-α  K428R (0 μM ADP)", "TaRca2-α  K428R (100 μM ADP)", "TaRca2-α  K428R (400 μM ADP)"], "range": ["#1F52FF", "#1F52FF", "#1F52FF", "#FF2A1F", "#FF2A1F", "#FF2A1F"]}, "legend": {"orient": "none", "legendX": 540, "legendY": 1, "labelExpr": "replace(datum.label, 'α  K', 'α\u00a0\u00a0K')"}},
            "strokeDash": {"field": "s", "type": "nominal", "scale": {"domain": ["TaRca2-α (0 μM ADP)", "TaRca2-α (100 μM ADP)", "TaRca2-α (400 μM ADP)", "TaRca2-α  K428R (0 μM ADP)", "TaRca2-α  K428R (100 μM ADP)", "TaRca2-α  K428R (400 μM ADP)"], "range": [[1, 0], [7, 4], [1.5, 2], [1, 0], [7, 4], [1.5, 2]]}, "legend": {"orient": "none", "legendX": 540, "legendY": 1, "labelExpr": "replace(datum.label, 'α  K', 'α\u00a0\u00a0K')"}},
            "strokeWidth": {"field": "s", "type": "nominal", "scale": {"domain": ["TaRca2-α (0 μM ADP)", "TaRca2-α (100 μM ADP)", "TaRca2-α (400 μM ADP)", "TaRca2-α  K428R (0 μM ADP)", "TaRca2-α  K428R (100 μM ADP)", "TaRca2-α  K428R (400 μM ADP)"], "range": [3, 3, 1.5, 3, 3, 1.5]}, "legend": null}
          }
        },
        {
          "data": {"name": "m"},
          "mark": {"type": "rule", "color": "black", "strokeWidth": 3, "strokeCap": "round", "strokeDash": [0.01, 6.9]},
          "encoding": {"x": {"field": "x", "type": "quantitative"}, "y": {"datum": -1}, "y2": {"datum": 20}}
        },
        {
          "data": {"values": [{"t": "B", "x": 0.84, "y": 19.2}]},
          "mark": {"type": "text", "fontSize": 25, "align": "left", "baseline": "alphabetic", "color": "#333333", "font": "Liberation Sans"},
          "encoding": {"x": {"field": "x", "type": "quantitative"}, "y": {"field": "y", "type": "quantitative"}, "text": {"field": "t"}}
        }
      ]
    }
  ]
}
